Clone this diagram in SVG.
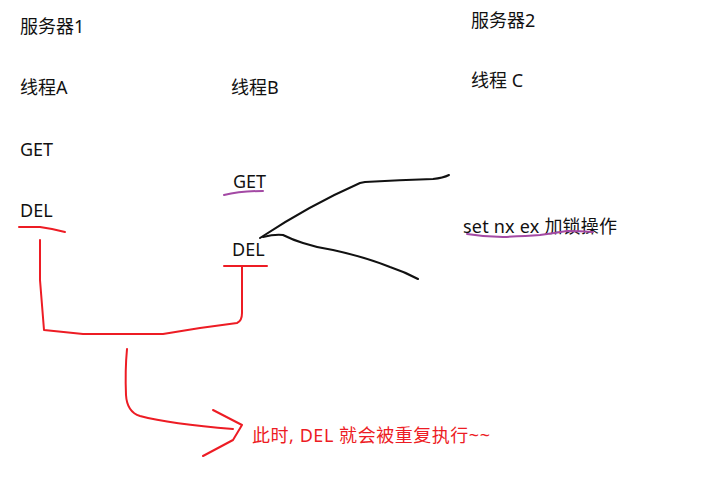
<svg xmlns="http://www.w3.org/2000/svg" width="716" height="477" viewBox="0 0 716 477">
<style>
text{font-family:"Noto Sans","Noto Sans CJK SC",sans-serif;font-size:18px;fill:#111}
.red{fill:#ed1c24;font-size:18px}
.r{fill:none;stroke:#ed1c24;stroke-width:2;stroke-linecap:round;stroke-linejoin:round}
.p{fill:none;stroke:#a349a4;stroke-width:2;stroke-linecap:round}
.k{fill:none;stroke:#111;stroke-width:2;stroke-linecap:round;stroke-linejoin:round}
</style>
<rect width="716" height="477" fill="#fff"/>
<g id="server1"><text x="20" y="33">服务器1</text></g>
<g id="threadA"><text x="20" y="94">线程A</text></g>
<g id="getA"><text x="20" y="156">GET</text></g>
<g id="delA"><text x="20" y="217">DEL</text></g>
<g id="threadB"><text x="231" y="94">线程B</text></g>
<g id="getB"><text x="233" y="188">GET</text></g>
<g id="delB"><text x="232" y="256">DEL</text></g>
<g id="server2"><text x="471" y="27">服务器2</text></g>
<g id="threadC"><text x="471" y="87">线程 C</text></g>
<g id="setnx"><text x="463" y="233" textLength="154" lengthAdjust="spacing">set nx ex 加锁操作</text></g>
<g id="note"><text class="red" x="252" y="442" textLength="238" lengthAdjust="spacing">此时, DEL 就会被重复执行~~</text></g>
<g id="connectors">
<path class="r" d="M19 227 L40 227 L52 229 L65 232"/>
<path class="r" d="M224 266 L267 266"/>
<path class="r" d="M40 240 L40 280 L44 330 L83 334 L163 334 L200 328 L237 323 Q242 321 242 313 L242 267"/>
<path class="r" d="M127 349 Q125 370 126 395 Q127 412 140 416 Q170 424 233 429"/>
<path class="r" d="M213 410 L242 425 L233 440 L203 456"/>
<path class="p" d="M224 195 Q240 191 263 191"/>
<path class="p" d="M467 234 Q485 237 503 237 Q525 236 540 235 Q555 233 567 231 Q580 231 593 232"/>
<path class="k" d="M260 238 Q310 205 360 183 L365 182 Q400 180 433 179 Q443 178 449 175"/>
<path class="k" d="M263 237 Q275 234 283 235 Q293 240 303 243 Q318 248 333 250 Q365 257 390 267 Q405 272 418 279"/>
</g>
</svg>
